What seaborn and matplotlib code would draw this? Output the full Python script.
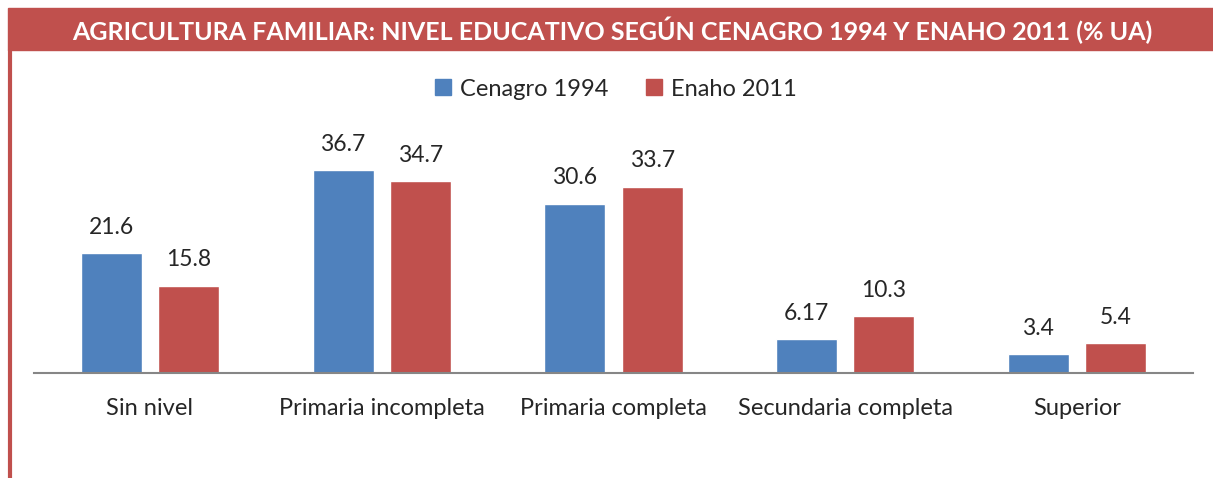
import pandas as pd
import matplotlib.pyplot as plt
import seaborn as sns
from matplotlib.patches import Rectangle
from matplotlib.lines import Line2D

categories = ["Sin nivel", "Primaria incompleta", "Primaria completa",
              "Secundaria completa", "Superior"]
cenagro_1994 = [21.6, 36.7, 30.6, 6.17, 3.4]
enaho_2011 = [15.8, 34.7, 33.7, 10.3, 5.4]
series = ["Cenagro 1994", "Enaho 2011"]
value_labels = {"Cenagro 1994": ["21.6", "36.7", "30.6", "6.17", "3.4"],
                "Enaho 2011": ["15.8", "34.7", "33.7", "10.3", "5.4"]}

BLUE = "#4F81BD"
RED = "#C0504D"

df = pd.DataFrame({
    "Nivel": categories * 2,
    "Serie": [series[0]] * len(categories) + [series[1]] * len(categories),
    "Valor": cenagro_1994 + enaho_2011,
})

sns.set_style("white")
plt.rcParams["font.family"] = ["Lato", "DejaVu Sans"]

W, H = 1213, 478
fig = plt.figure(figsize=(W / 100, H / 100), dpi=100)

# title banner + left border
fig.patches.append(Rectangle((8 / W, 1 - 50 / H), 1 - 8 / W, 42 / H,
                             transform=fig.transFigure, color=RED, zorder=0))
fig.lines.append(Line2D([9.5 / W, 9.5 / W], [0, 1 - 50 / H], transform=fig.transFigure,
                        color=RED, lw=3))
fig.text(612 / W, 1 - 30 / H,
         "AGRICULTURA FAMILIAR: NIVEL EDUCATIVO SEGÚN CENAGRO 1994 Y ENAHO 2011 (% UA)",
         color="white", fontsize=18, fontweight="bold", ha="center", va="center")

ax = fig.add_axes([34 / W, 1 - 373 / H, (1193 - 34) / W, (373 - 124) / H])
sns.barplot(data=df, x="Nivel", y="Valor", hue="Serie", palette=[BLUE, RED],
            width=0.667, gap=0.21, ax=ax, legend=False, saturation=1)

for cont, name in zip(ax.containers, series):
    ax.bar_label(cont, labels=value_labels[name], padding=11, fontsize=16.5)

ax.set_ylim(0, 45)
ax.set_xlim(-0.5, 4.5)
ax.set_xlabel("")
ax.set_ylabel("")
ax.set_yticks([])
for s in ["top", "right", "left"]:
    ax.spines[s].set_visible(False)
ax.spines["bottom"].set_color("#868686")
ax.spines["bottom"].set_linewidth(1.5)
ax.tick_params(axis="x", length=0, labelsize=17, pad=18)

handles = [Rectangle((0, 0), 1, 1, color=c) for c in (BLUE, RED)]
fig.legend(handles, series, loc="center", bbox_to_anchor=(616 / W, 1 - 89 / H),
           ncol=2, frameon=False, fontsize=17, handlelength=0.65, handleheight=0.65,
           handletextpad=0.4, columnspacing=1.6)

fig.savefig("out.png", dpi=100)
